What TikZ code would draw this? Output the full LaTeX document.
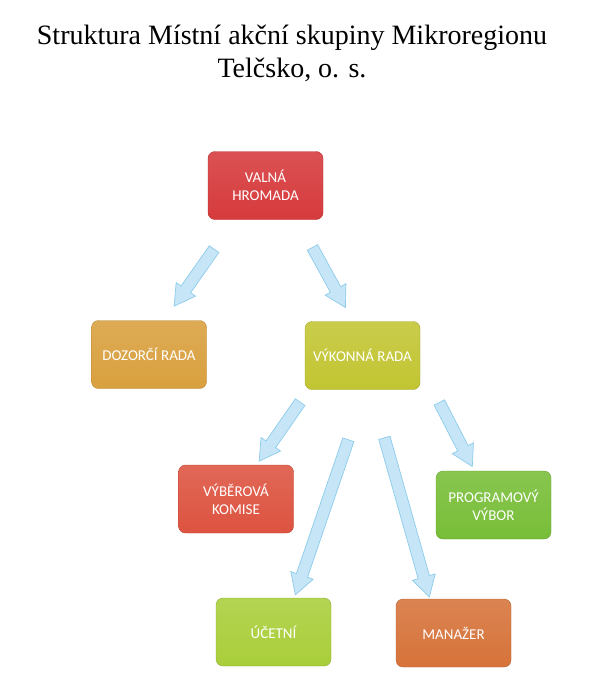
\documentclass[tikz,border=0pt]{standalone}
\usepackage{fontspec}
\setmainfont{Liberation Serif}
\setsansfont{Carlito}
\usetikzlibrary{shapes.arrows,calc}

\definecolor{arrowfill}{HTML}{C6E6F7}
\definecolor{arrowline}{HTML}{8CCBEC}
\definecolor{boxred}{HTML}{D63A3C}
\definecolor{boxgold}{HTML}{D9A03E}
\definecolor{boxolive}{HTML}{C2C532}
\definecolor{boxcoral}{HTML}{DD5340}
\definecolor{boxgreen}{HTML}{78BE38}
\definecolor{boxlime}{HTML}{A9CE3A}
\definecolor{boxorange}{HTML}{D6733A}

\tikzset{
  orgbox/.style={rounded corners=7pt, minimum width=115pt, minimum height=68pt,
    align=center, text=white, font=\sffamily\fontsize{15}{18}\selectfont,
    draw=#1!85!black, top color=#1!88!white, bottom color=#1},
  flow/.style={single arrow, draw=arrowline, fill=arrowfill, line width=0.7pt,
    inner sep=5.5pt, single arrow head extend=6pt, single arrow tip angle=60}
}

\newcommand\flowarrow[2]{%
  \path let \p1=($(#2)-(#1)$), \n1={atan2(\y1,\x1)}, \n2={veclen(\x1,\y1)} in
    node[flow, rotate=\n1, minimum height=\n2] at ($(#1)!0.5!(#2)$) {};}

\begin{document}
\begin{tikzpicture}[x=1pt,y=-1pt]
  \useasboundingbox (0,0) rectangle (598,696);

  % title
  \node[align=center, font=\fontsize{28}{33}\selectfont] (title) at (292,53)
    {Struktura Místní akční skupiny Mikroregionu\\Telčsko, o. s.};

  % boxes
  \node[orgbox=boxred]    (valna) at (265.5,185.5) {VALNÁ\\HROMADA};
  \node[orgbox=boxgold]   (dozor) at (149,354.5)   {DOZORČÍ RADA};
  \node[orgbox=boxolive]  (vykon) at (362.5,355.5) {VÝKONNÁ RADA};
  \node[orgbox=boxcoral]  (vyber) at (236,499)     {VÝBĚROVÁ\\KOMISE};
  \node[orgbox=boxgreen]  (progr) at (493.5,505)   {PROGRAMOVÝ\\VÝBOR};
  \node[orgbox=boxlime]   (ucet)  at (273.5,632)   {ÚČETNÍ};
  \node[orgbox=boxorange] (manaz) at (453.5,633)   {MANAŽER};

  % arrow ends
  \coordinate (valna-l) at (217,245);  \coordinate (dozor-t) at (177,302);
  \coordinate (valna-r) at (310,243);  \coordinate (vykon-t) at (343,303);
  \coordinate (vykon-1) at (303,398);  \coordinate (vyber-t) at (262,457);
  \coordinate (vykon-2) at (350,435);  \coordinate (ucet-t)  at (297,590);
  \coordinate (vykon-3) at (383,433);  \coordinate (manaz-t) at (428,592);
  \coordinate (vykon-4) at (437,398);  \coordinate (progr-t) at (470,462);

  \flowarrow{valna-l}{dozor-t}
  \flowarrow{valna-r}{vykon-t}
  \flowarrow{vykon-1}{vyber-t}
  \flowarrow{vykon-2}{ucet-t}
  \flowarrow{vykon-3}{manaz-t}
  \flowarrow{vykon-4}{progr-t}
\end{tikzpicture}
\end{document}
